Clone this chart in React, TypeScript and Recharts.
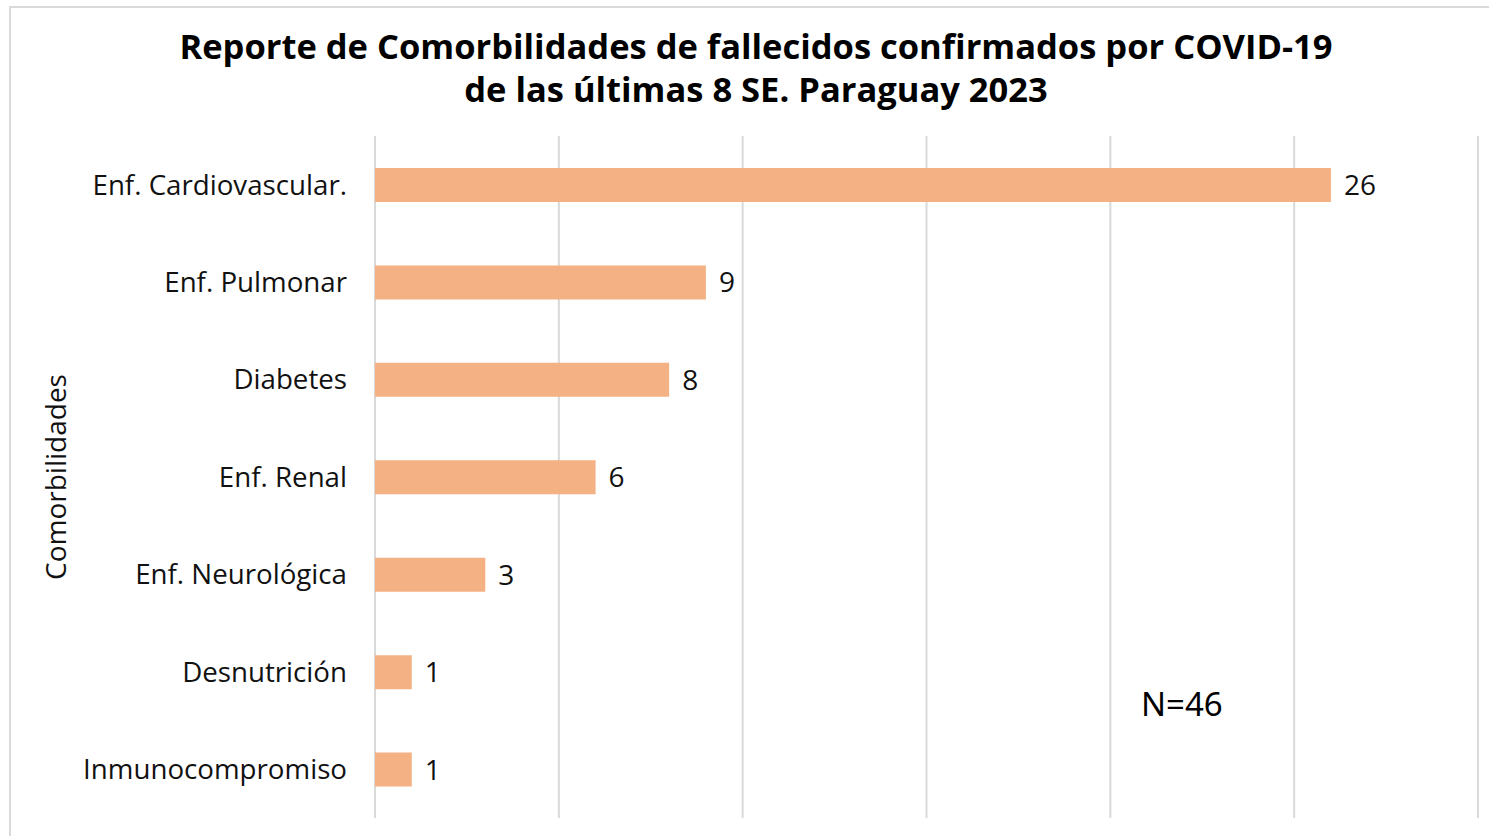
import { BarChart, Bar, XAxis, YAxis, CartesianGrid, LabelList } from 'recharts';

const categories = [
  'Enf. Cardiovascular.',
  'Enf. Pulmonar',
  'Diabetes',
  'Enf. Renal',
  'Enf. Neurológica',
  'Desnutrición',
  'Inmunocompromiso',
];
const deaths = [26, 9, 8, 6, 3, 1, 1];
const xTicks = [0, 5, 10, 15, 20, 25, 30];

const titleLines = [
  'Reporte de Comorbilidades de fallecidos confirmados por COVID-19',
  'de las últimas 8 SE. Paraguay 2023',
];
const axisTitle = 'Comorbilidades';
const totalNote = 'N=46';

const data = categories.map((name, i) => ({ name, value: deaths[i] }));

const font = '"Open Sans", "Noto Sans", sans-serif';

const App = () => {
  return (
    <div
      style={{
        position: 'fixed',
        left: 0,
        top: 0,
        width: 1489,
        height: 836,
        overflow: 'hidden',
        background: '#fff',
        fontFamily: font,
      }}
    >
      {/* chart frame, runs off the right and bottom of the picture */}
      <div
        style={{
          position: 'absolute',
          left: 9,
          top: 6,
          width: 1600,
          height: 1000,
          border: '2px solid #d9d9d9',
        }}
      />
      <div
        style={{
          position: 'absolute',
          left: 0,
          top: 24,
          width: 1512,
          textAlign: 'center',
          fontWeight: 700,
          fontSize: 34.5,
          lineHeight: '43px',
          color: '#000',
        }}
      >
        {titleLines.map((t) => (
          <div key={t}>{t}</div>
        ))}
      </div>
      <div style={{ position: 'absolute', left: 0, top: 0 }}>
        <BarChart
          layout="vertical"
          width={1489}
          height={836}
          data={data}
          margin={{ top: 136, right: 11, left: 0, bottom: 18 }}
          barCategoryGap={0}
        >
          <CartesianGrid horizontal={false} stroke="#d9d9d9" strokeWidth={2} />
          <XAxis type="number" domain={[0, 30]} ticks={xTicks} hide />
          <YAxis
            type="category"
            dataKey="name"
            width={375}
            axisLine={false}
            tickLine={false}
            tickSize={0}
            tickMargin={28}
            tick={{ fill: '#111', fontSize: 27.7, fontFamily: font }}
            label={({ viewBox }: any) => (
              <text
                x={0}
                y={0}
                transform={`translate(55, ${viewBox.y + viewBox.height / 2}) rotate(-90)`}
                textAnchor="middle"
                dominantBaseline="central"
                fontSize={28}
                fontFamily={font}
                fill="#111"
              >
                {axisTitle}
              </text>
            )}
          />
          <Bar dataKey="value" fill="#f4b183" barSize={34} isAnimationActive={false}>
            <LabelList
              dataKey="value"
              position="right"
              offset={13}
              fill="#111"
              fontSize={28}
              fontFamily={font}
            />
          </Bar>
        </BarChart>
      </div>
      <div
        style={{
          position: 'absolute',
          left: 1141,
          top: 681,
          fontSize: 33,
          color: '#000',
          fontFamily: '"Noto Sans", sans-serif',
        }}
      >
        {totalNote}
      </div>
    </div>
  );
};

export default App;
